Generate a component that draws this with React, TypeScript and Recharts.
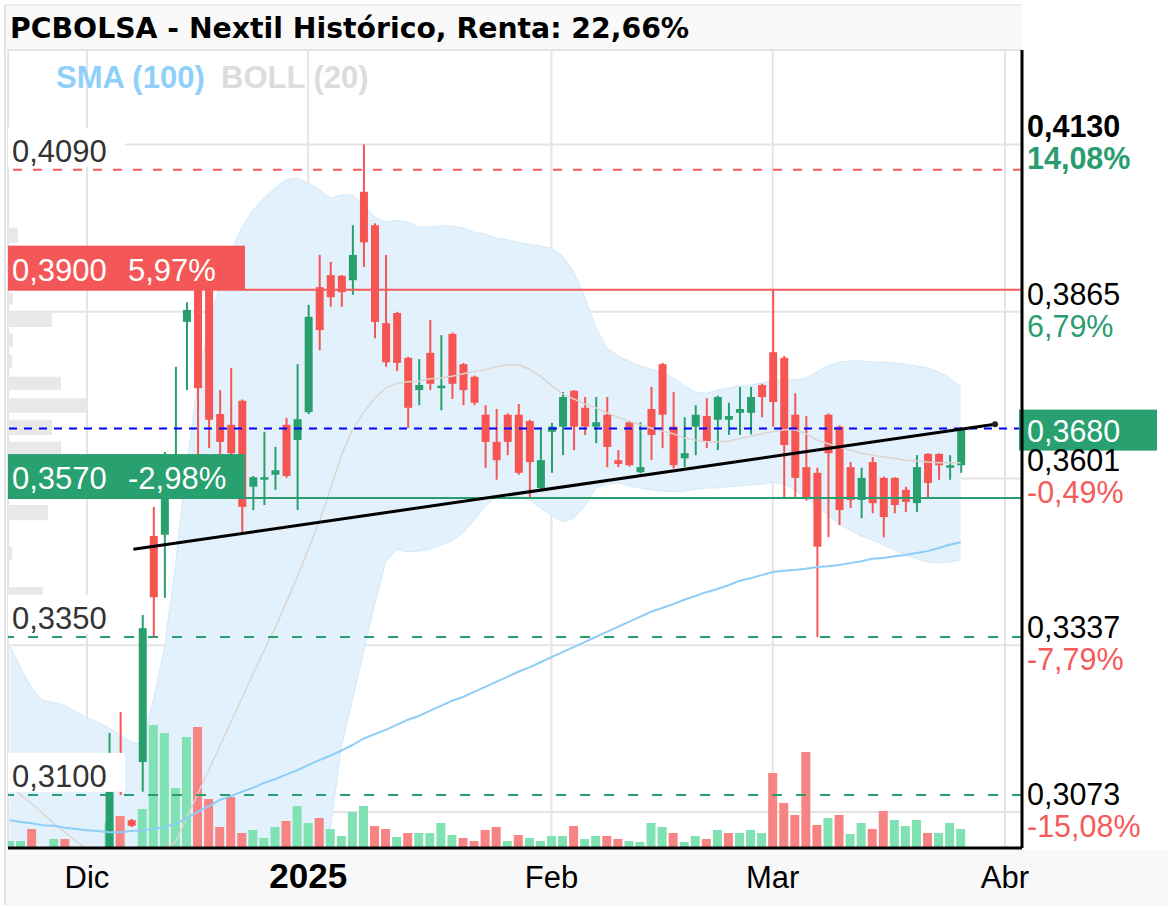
import React from "react";
import {
  ComposedChart, Bar, Line, Area, XAxis, YAxis, CartesianGrid, ReferenceLine, ReferenceArea, ReferenceDot, Cell,
} from "recharts";

// trading-day index of the first row (0 = first session of December)
const FIRST_DAY = -7;

const OPEN = [
  0.2990, 0.2970, 0.2980, 0.2950, 0.2950, 0.2970, 0.2940, 0.2940, 0.2940,
  0.2980, 0.3131, 0.3060, 0.3152, 0.3510, 0.3512, 0.3591, 0.3849, 0.3900, 0.3900,
  0.3703, 0.3686, 0.3724, 0.3588, 0.3600, 0.3607, 0.3686, 0.3662, 0.3706,
  0.3904, 0.3923, 0.3922, 0.3915, 0.4055, 0.4002, 0.3847, 0.3863, 0.3792,
  0.3741, 0.3800, 0.3745, 0.3830, 0.3782, 0.3762, 0.3702, 0.3659, 0.3702,
  0.3702, 0.3692, 0.3586, 0.3675, 0.3683, 0.3740, 0.3713, 0.3683, 0.3702,
  0.3630, 0.3690, 0.3611, 0.3711, 0.3782, 0.3683, 0.3633, 0.3683, 0.3700,
  0.3694, 0.3694, 0.3705, 0.3705, 0.3749, 0.3801, 0.3792, 0.3702, 0.3619,
  0.3610, 0.3702, 0.3683, 0.3619, 0.3567, 0.3627, 0.3602, 0.3602, 0.3583,
  0.3562, 0.3640, 0.3640, 0.3620, 0.3622,
];
const HIGH = [
  0.3000, 0.2990, 0.2990, 0.2960, 0.2980, 0.2980, 0.2950, 0.2950, 0.2950,
  0.3198, 0.3231, 0.3062, 0.3385, 0.3556, 0.3643, 0.3778, 0.3880, 0.3915, 0.3905,
  0.3741, 0.3776, 0.3726, 0.3605, 0.3675, 0.3651, 0.3697, 0.3782, 0.3876,
  0.3955, 0.3944, 0.3923, 0.4002, 0.4130, 0.4005, 0.3955, 0.3865, 0.3794,
  0.3790, 0.3852, 0.3828, 0.3832, 0.3784, 0.3764, 0.3717, 0.3711, 0.3704,
  0.3719, 0.3694, 0.3679, 0.3689, 0.3738, 0.3741, 0.3730, 0.3730, 0.3730,
  0.3646, 0.3692, 0.3690, 0.3746, 0.3784, 0.3738, 0.3698, 0.3717, 0.3728,
  0.3732, 0.3721, 0.3746, 0.3746, 0.3751, 0.3900, 0.3795, 0.3736, 0.3700,
  0.3618, 0.3704, 0.3685, 0.3627, 0.3618, 0.3635, 0.3604, 0.3603, 0.3588,
  0.3638, 0.3641, 0.3641, 0.3638, 0.3682,
];
const LOW = [
  0.2960, 0.2950, 0.2940, 0.2940, 0.2940, 0.2930, 0.2930, 0.2930, 0.2930,
  0.2970, 0.3100, 0.3049, 0.3105, 0.3350, 0.3412, 0.3575, 0.3741, 0.3635, 0.3649,
  0.3633, 0.3633, 0.3516, 0.3551, 0.3559, 0.3583, 0.3602, 0.3551, 0.3703,
  0.3804, 0.3873, 0.3873, 0.3892, 0.3936, 0.3823, 0.3778, 0.3771, 0.3681,
  0.3717, 0.3741, 0.3709, 0.3727, 0.3717, 0.3717, 0.3618, 0.3599, 0.3638,
  0.3607, 0.3570, 0.3582, 0.3610, 0.3638, 0.3646, 0.3670, 0.3657, 0.3619,
  0.3619, 0.3620, 0.3609, 0.3630, 0.3649, 0.3617, 0.3619, 0.3638, 0.3649,
  0.3646, 0.3670, 0.3670, 0.3671, 0.3698, 0.3683, 0.3570, 0.3570, 0.3566,
  0.3350, 0.3508, 0.3527, 0.3554, 0.3538, 0.3546, 0.3508, 0.3546, 0.3548,
  0.3548, 0.3570, 0.3599, 0.3599, 0.3610,
];
const CLOSE = [
  0.2970, 0.2980, 0.2950, 0.2950, 0.2970, 0.2940, 0.2940, 0.2940, 0.2940,
  0.3110, 0.3105, 0.3051, 0.3364, 0.3413, 0.3572, 0.3621, 0.3868, 0.3744, 0.3694,
  0.3659, 0.3641, 0.3556, 0.3603, 0.3603, 0.3614, 0.3605, 0.3695, 0.3857,
  0.3836, 0.3888, 0.3896, 0.3955, 0.3975, 0.3849, 0.3785, 0.3784, 0.3713,
  0.3749, 0.3751, 0.3748, 0.3751, 0.3741, 0.3721, 0.3659, 0.3630, 0.3659,
  0.3610, 0.3627, 0.3630, 0.3683, 0.3730, 0.3683, 0.3683, 0.3690, 0.3651,
  0.3624, 0.3622, 0.3619, 0.3670, 0.3702, 0.3622, 0.3641, 0.3702, 0.3659,
  0.3730, 0.3700, 0.3711, 0.3730, 0.3730, 0.3722, 0.3654, 0.3602, 0.3570,
  0.3493, 0.3641, 0.3551, 0.3567, 0.3602, 0.3562, 0.3540, 0.3559, 0.3564,
  0.3619, 0.3594, 0.3622, 0.3622, 0.3680,
];
// volume in thousands of shares, 1 = closed above previous close
const VOLUME = [
  70, 70, 190, 0, 90, 90, 0, 0, 0,
  250, 320, 0, 390, 1230, 1150, 600, 1110, 1210, 490,
  210, 510, 150, 180, 100, 210, 270, 420, 250,
  300, 190, 120, 360, 420, 220, 190, 110, 150,
  150, 150, 250, 130, 100, 70, 180, 210, 70,
  130, 100, 70, 120, 120, 220, 90, 120, 120,
  90, 70, 60, 250, 210, 150, 60, 120, 90,
  180, 150, 150, 180, 150, 750, 450, 330, 960,
  230, 300, 330, 140, 250, 190, 370, 280, 220,
  280, 150, 150, 250, 190,
];
const VOLUME_UP = [
  1, 1, 0, 1, 1, 0, 1, 1, 1,
  1, 0, 0, 1, 1, 1, 1, 1, 0, 0,
  0, 0, 0, 1, 1, 1, 0, 1, 1,
  0, 1, 1, 1, 1, 0, 0, 1, 0,
  1, 1, 1, 1, 0, 0, 0, 0, 1,
  0, 1, 1, 1, 1, 0, 1, 1, 0,
  0, 1, 1, 1, 1, 0, 1, 1, 0,
  1, 0, 1, 1, 1, 0, 0, 0, 0,
  0, 1, 0, 1, 1, 0, 0, 1, 1,
  1, 0, 1, 1, 1,
];
const BOLL_UPPER = [
  0.3337, 0.3301, 0.3269, 0.3250, 0.3246, 0.3242, 0.3231, 0.3222, 0.3215,
  0.3206, 0.3195, 0.3184, 0.3179, 0.3250, 0.3333, 0.3464, 0.3622, 0.3749, 0.3844,
  0.3907, 0.3960, 0.3998, 0.4026, 0.4045, 0.4061, 0.4074, 0.4077, 0.4069,
  0.4058, 0.4045, 0.4050, 0.4050, 0.4034, 0.4015, 0.4007, 0.4010, 0.4007,
  0.3999, 0.3999, 0.4001, 0.4001, 0.3998, 0.3991, 0.3988, 0.3982, 0.3979,
  0.3975, 0.3972, 0.3969, 0.3966, 0.3953, 0.3928, 0.3888, 0.3841, 0.3808,
  0.3795, 0.3787, 0.3779, 0.3774, 0.3770, 0.3760, 0.3748, 0.3738, 0.3736,
  0.3741, 0.3744, 0.3748, 0.3749, 0.3752, 0.3757, 0.3757, 0.3757, 0.3760,
  0.3770, 0.3779, 0.3785, 0.3787, 0.3787, 0.3785, 0.3785, 0.3784, 0.3782,
  0.3779, 0.3776, 0.3770, 0.3760, 0.3746,
];
const BOLL_MIDDLE = [
  0.3116, 0.3100, 0.3086, 0.3071, 0.3055, 0.3041, 0.3027, 0.3013, 0.3005,
  0.3000, 0.3000, 0.3002, 0.3005, 0.3010, 0.3016, 0.3025, 0.3063, 0.3101, 0.3139,
  0.3177, 0.3215, 0.3253, 0.3291, 0.3328, 0.3364, 0.3404, 0.3445, 0.3488,
  0.3532, 0.3583, 0.3638, 0.3678, 0.3705, 0.3728, 0.3744, 0.3752, 0.3754,
  0.3755, 0.3759, 0.3760, 0.3763, 0.3767, 0.3770, 0.3773, 0.3778, 0.3781,
  0.3781, 0.3774, 0.3763, 0.3748, 0.3735, 0.3727, 0.3719, 0.3713, 0.3705,
  0.3698, 0.3692, 0.3686, 0.3681, 0.3676, 0.3672, 0.3665, 0.3662, 0.3659,
  0.3659, 0.3660, 0.3664, 0.3668, 0.3672, 0.3675, 0.3678, 0.3678, 0.3672,
  0.3662, 0.3656, 0.3651, 0.3646, 0.3641, 0.3638, 0.3635, 0.3633, 0.3630,
  0.3629, 0.3627, 0.3626, 0.3626, 0.3626,
];
const BOLL_LOWER = [
  0.2895, 0.2899, 0.2903, 0.2892, 0.2864, 0.2840, 0.2823, 0.2804, 0.2795,
  0.2794, 0.2805, 0.2820, 0.2831, 0.2770, 0.2699, 0.2586, 0.2504, 0.2453, 0.2434,
  0.2447, 0.2470, 0.2508, 0.2556, 0.2611, 0.2667, 0.2734, 0.2813, 0.2907,
  0.3006, 0.3044, 0.3176, 0.3250, 0.3326, 0.3401, 0.3469, 0.3488, 0.3485,
  0.3486, 0.3489, 0.3496, 0.3502, 0.3515, 0.3535, 0.3557, 0.3572, 0.3573,
  0.3572, 0.3567, 0.3554, 0.3543, 0.3532, 0.3538, 0.3557, 0.3586, 0.3592,
  0.3594, 0.3589, 0.3586, 0.3583, 0.3581, 0.3580, 0.3581, 0.3584, 0.3586,
  0.3586, 0.3588, 0.3589, 0.3591, 0.3592, 0.3595, 0.3592, 0.3583, 0.3570,
  0.3557, 0.3543, 0.3529, 0.3519, 0.3510, 0.3504, 0.3496, 0.3488, 0.3480,
  0.3474, 0.3469, 0.3467, 0.3469, 0.3472,
];
const SMA_100 = [
  0.3060, 0.3057, 0.3055, 0.3052, 0.3051, 0.3048, 0.3046, 0.3044, 0.3043,
  0.3041, 0.3041, 0.3043, 0.3044, 0.3046, 0.3049, 0.3054, 0.3063, 0.3073, 0.3082,
  0.3092, 0.3098, 0.3105, 0.3111, 0.3119, 0.3125, 0.3132, 0.3139, 0.3147,
  0.3155, 0.3162, 0.3170, 0.3179, 0.3189, 0.3196, 0.3203, 0.3211, 0.3219,
  0.3225, 0.3233, 0.3241, 0.3249, 0.3255, 0.3263, 0.3271, 0.3279, 0.3287,
  0.3295, 0.3302, 0.3310, 0.3318, 0.3326, 0.3334, 0.3342, 0.3350, 0.3358,
  0.3366, 0.3374, 0.3382, 0.3390, 0.3396, 0.3402, 0.3409, 0.3415, 0.3421,
  0.3426, 0.3432, 0.3439, 0.3443, 0.3448, 0.3453, 0.3455, 0.3456, 0.3458,
  0.3461, 0.3462, 0.3464, 0.3467, 0.3470, 0.3474, 0.3475, 0.3478, 0.3480,
  0.3483, 0.3486, 0.3491, 0.3496, 0.3500,
];

// volume-by-price histogram on the left edge (relative volume per price bucket)
const PROFILE_LOW = [0.3974, 0.3876, 0.3841, 0.3809, 0.3776, 0.3741, 0.3705, 0.3670, 0.3635, 0.3535, 0.3472, 0.3417];
const PROFILE_HIGH = [0.3998, 0.3895, 0.3865, 0.3831, 0.3797, 0.3762, 0.3728, 0.3694, 0.3659, 0.3559, 0.3493, 0.3429];
const PROFILE_VOLUME = [10, 5, 44, 5, 4, 53, 79, 44, 53, 40, 4, 35];

const MONTH_TICKS = [0, 20, 42, 62, 83];
const MONTH_LABELS = ["Dic", "2025", "Feb", "Mar", "Abr"];
const PRICE_TICKS = [0.4130, 0.3865, 0.3601, 0.3337, 0.3073];
const PRICE_CHANGES = ["14,08%", "6,79%", "-0,49%", "-7,79%", "-15,08%"];
const LAST_PRICE = 0.3680;

const LEVEL_PRICES = [0.4090, 0.3900, 0.3570, 0.3350, 0.3100];
const LEVEL_CHANGES = ["", "5,97%", "-2,98%", "", ""];
const LEVEL_KINDS = ["dashRed", "boxRed", "boxGreen", "dashGreen", "dashGreen"];

const TREND_FROM = { day: 4.2, price: 0.3489 };
const TREND_TO = { day: 82.1, price: 0.3687 };

const X_DOMAIN = [-7.14, 84.54];
const PRICE_DOMAIN = [0.30159, 0.42795];
const VOL_DOMAIN = [0, 7980];
const PLOT_WIDTH = 1014;
// one profile volume unit spans one pixel of the plot
const DAYS_PER_PROFILE_UNIT = (X_DOMAIN[1] - X_DOMAIN[0]) / PLOT_WIDTH;

const GREEN = "#27a06e";
const RED = "#f65552";
const VOL_GREEN = "#80e1b2";
const VOL_RED = "#f88383";
const TEXT_GREEN = "#2a9d6f";
const TEXT_RED = "#f55a5a";
const SANS = "'Liberation Sans', Arial, sans-serif";

const rows = OPEN.map((o, k) => ({
  day: FIRST_DAY + k,
  open: o,
  high: HIGH[k],
  low: LOW[k],
  close: CLOSE[k],
  volume: VOLUME[k],
  volUp: VOLUME_UP[k],
  bollUp: BOLL_UPPER[k],
  bollMid: BOLL_MIDDLE[k],
  bollLow: BOLL_LOWER[k],
  sma: SMA_100[k],
}));

const fmt = (v: number) => v.toFixed(4).replace(".", ",");

function Candle(props: any) {
  const { x, y, width, height, payload } = props;
  if (!payload || height == null || isNaN(y)) return null;
  const { open, close, high, low } = payload;
  const span = high - low;
  const at = (v: number) => (span > 0 ? y + ((high - v) / span) * height : y);
  const color = close >= open ? GREEN : RED;
  const cx = x + width / 2;
  const top = at(Math.max(open, close));
  const bottom = at(Math.min(open, close));
  return (
    <g>
      <line x1={cx} x2={cx} y1={y} y2={y + height} stroke={color} strokeWidth={2} />
      <rect x={x} y={top} width={width} height={Math.max(bottom - top, 2.5)} fill={color} />
    </g>
  );
}

function MonthTick(props: any) {
  const { x, y, payload } = props;
  const label = MONTH_LABELS[MONTH_TICKS.indexOf(payload.value)];
  const isYear = /^\d{4}$/.test(label);
  return (
    <text x={x} y={y + 32} textAnchor="middle" fontFamily={SANS}
      fontSize={isYear ? 35 : 31} fontWeight={isYear ? 700 : 400} fill="#000">
      {label}
    </text>
  );
}

function PriceTick(props: any) {
  const { x, y, payload } = props;
  let k = 0;
  PRICE_TICKS.forEach((t, i) => {
    if (Math.abs(t - payload.value) < Math.abs(PRICE_TICKS[k] - payload.value)) k = i;
  });
  const first = k === 0;
  const change = PRICE_CHANGES[k];
  return (
    <g>
      <text x={x - 3} y={y - 7} fontFamily={SANS} fontSize={30.5} fontWeight={first ? 700 : 400} fill="#000">
        {fmt(PRICE_TICKS[k])}
      </text>
      <text x={x - 3} y={y + 25} fontFamily={SANS} fontSize={30.5} fontWeight={first ? 700 : 400}
        fill={change.startsWith("-") ? TEXT_RED : TEXT_GREEN}>
        {change}
      </text>
    </g>
  );
}

function LevelLabel(props: any) {
  const { viewBox, k } = props;
  if (!viewBox) return null;
  const { x, y } = viewBox;
  const kind = LEVEL_KINDS[k];
  if (kind.startsWith("box")) {
    return (
      <g>
        <rect x={x} y={y - 44} width={237} height={44} fill={kind === "boxRed" ? "#f45757" : "#28a06f"} />
        <text x={x + 4} y={y - 9} fontFamily={SANS} fontSize={31} fill="#fff">{fmt(LEVEL_PRICES[k])}</text>
        <text x={x + 120} y={y - 9} fontFamily={SANS} fontSize={31} fill="#fff">{LEVEL_CHANGES[k]}</text>
      </g>
    );
  }
  return (
    <g>
      <rect x={x} y={y - 42} width={117} height={39} fill="#fff" />
      <text x={x + 4} y={y - 8} fontFamily={SANS} fontSize={31} fill="#333">{fmt(LEVEL_PRICES[k])}</text>
    </g>
  );
}

function LastPriceLabel(props: any) {
  const { viewBox } = props;
  if (!viewBox) return null;
  const right = viewBox.x + viewBox.width;
  return (
    <g>
      <rect x={right - 3} y={viewBox.y - 19} width={138} height={41} fill="#28a06f" />
      <text x={right + 5} y={viewBox.y + 13} fontFamily={SANS} fontSize={30.5} fill="#fff">{fmt(LAST_PRICE)}</text>
    </g>
  );
}

export default function App() {
  return (
    <div style={{ position: "absolute", left: 0, top: 0, width: 1175, height: 908, background: "#fff", overflow: "hidden" }}>
      <svg width={1175} height={908} style={{ position: "absolute", left: 0, top: 0 }}>
        <rect x={5} y={5} width={1017} height={45} fill="#f9f9f9" />
        <rect x={5} y={850} width={1163} height={55} fill="#f8f8f8" />
        <line x1={5} x2={5} y1={5} y2={905} stroke="#e2e2e2" strokeWidth={2} />
        <line x1={5} x2={1022} y1={5} y2={5} stroke="#ececec" strokeWidth={2} />
      </svg>
      <div style={{ position: "absolute", left: 0, top: 0 }}>
        <ComposedChart width={1175} height={908} data={rows} margin={{ top: 50, right: 0, bottom: 0, left: 8 }}>
          <CartesianGrid xAxisId="p" yAxisId="price" stroke="#e4e4e4" strokeWidth={2} />
          <XAxis xAxisId="p" type="number" dataKey="day" domain={X_DOMAIN} ticks={MONTH_TICKS} allowDataOverflow
            height={60} tickLine={false} axisLine={{ stroke: "#000", strokeWidth: 3 }} tick={<MonthTick />} interval={0} />
          <XAxis xAxisId="v" type="number" dataKey="day" domain={X_DOMAIN} allowDataOverflow hide />
          <YAxis yAxisId="price" orientation="right" type="number" domain={PRICE_DOMAIN} ticks={PRICE_TICKS}
            allowDataOverflow width={153} tickLine={false} axisLine={{ stroke: "#000", strokeWidth: 3 }}
            tick={<PriceTick />} interval={0} />
          <YAxis yAxisId="vol" type="number" domain={VOL_DOMAIN} allowDataOverflow hide />

          {PROFILE_VOLUME.map((v, i) => (
            <ReferenceArea key={`pr${i}`} xAxisId="p" yAxisId="price" x1={X_DOMAIN[0]}
              x2={X_DOMAIN[0] + v * DAYS_PER_PROFILE_UNIT}
              y1={PROFILE_LOW[i]} y2={PROFILE_HIGH[i]} fill="#e8e8e8" fillOpacity={1} stroke="none" />
          ))}

          <Area xAxisId="p" yAxisId="price" dataKey={(d: any) => [d.bollLow, d.bollUp]} stroke="#d3e9f9"
            strokeWidth={1} fill="#e2f1fc" fillOpacity={1} isAnimationActive={false} />
          <Line xAxisId="p" yAxisId="price" dataKey="bollMid" stroke="#dcd5cf" strokeWidth={1.5} dot={false}
            activeDot={false} isAnimationActive={false} />
          <Line xAxisId="p" yAxisId="price" dataKey="sma" stroke="#8ecdf7" strokeWidth={2} dot={false}
            activeDot={false} isAnimationActive={false} />

          <Bar xAxisId="v" yAxisId="vol" dataKey="volume" barSize={9} isAnimationActive={false}>
            {rows.map((r, i) => (
              <Cell key={`v${i}`} fill={r.volUp ? VOL_GREEN : VOL_RED} />
            ))}
          </Bar>
          <Bar xAxisId="p" yAxisId="price" dataKey={(d: any) => [d.low, d.high]} barSize={8}
            shape={<Candle />} isAnimationActive={false} />

          <ReferenceLine xAxisId="p" yAxisId="price" y={LAST_PRICE} stroke="#0000ff" strokeWidth={2}
            strokeDasharray="8 7" label={<LastPriceLabel />} />
          {LEVEL_PRICES.map((p, k) => {
            const kind = LEVEL_KINDS[k];
            const red = kind.endsWith("Red");
            const dashed = kind.startsWith("dash");
            return (
              <ReferenceLine key={`lv${k}`} xAxisId="p" yAxisId="price" y={p}
                stroke={red ? "#f45a5a" : "#2a9d6f"} strokeWidth={2}
                strokeDasharray={dashed ? (red ? "9 11" : "10 14") : undefined}
                label={<LevelLabel k={k} />} />
            );
          })}
          <ReferenceLine xAxisId="p" yAxisId="price" ifOverflow="visible"
            segment={[{ x: TREND_FROM.day, y: TREND_FROM.price }, { x: TREND_TO.day, y: TREND_TO.price }]}
            stroke="#000" strokeWidth={3} />
          <ReferenceDot xAxisId="p" yAxisId="price" x={TREND_TO.day} y={TREND_TO.price} r={3}
            fill="#222" stroke="none" />
        </ComposedChart>
      </div>
      <svg width={1175} height={120} style={{ position: "absolute", left: 0, top: 0, pointerEvents: "none" }}>
        <text x={10} y={38} fontFamily="'DejaVu Sans', Verdana, sans-serif" fontWeight={700} fontSize={28.3} fill="#000">
          PCBOLSA - Nextil Histórico, Renta: 22,66%
        </text>
        <text x={56} y={88} fontFamily={SANS} fontWeight={700} fontSize={31} fill="#8fd0fa">SMA (100)</text>
        <text x={221} y={88} fontFamily={SANS} fontWeight={700} fontSize={31} fill="#dcdcdc">BOLL (20)</text>
      </svg>
    </div>
  );
}
